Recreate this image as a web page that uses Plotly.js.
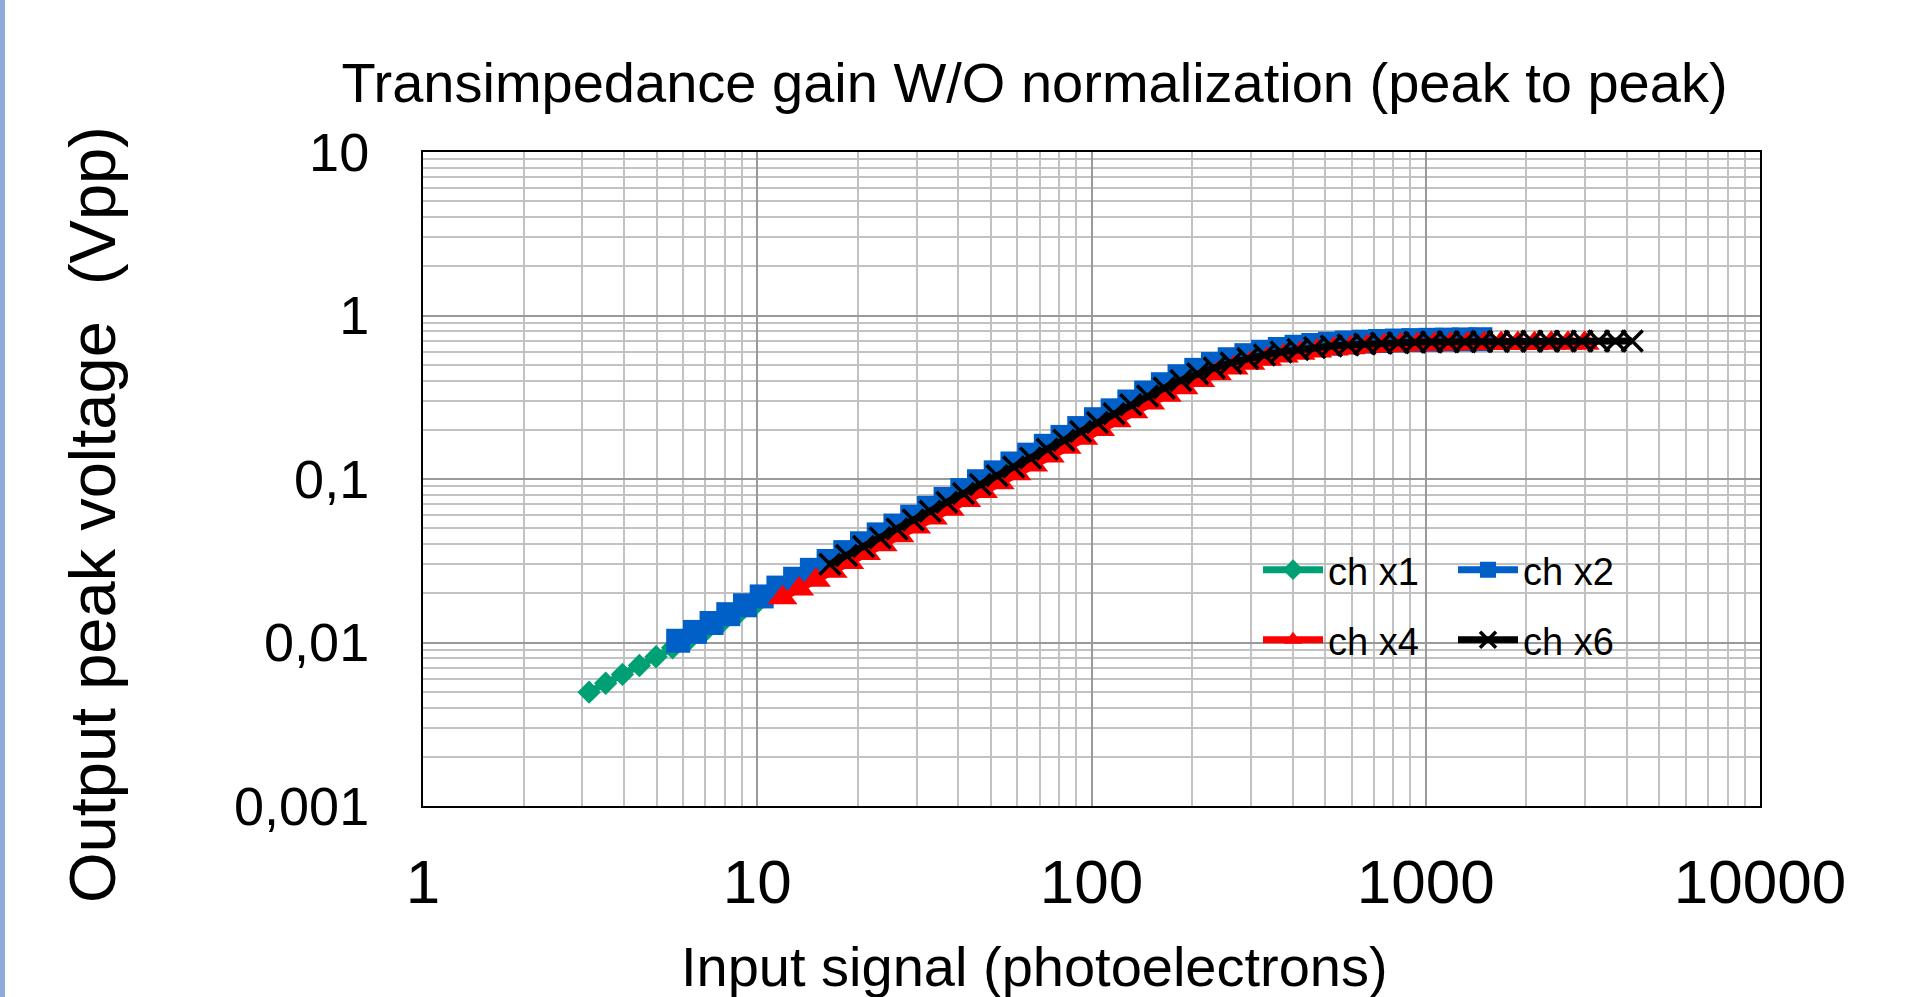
<!DOCTYPE html>
<html>
<head>
<meta charset="utf-8">
<script src="https://cdn.plot.ly/plotly-3.0.1.min.js"></script>
<style>
html,body{margin:0;padding:0;background:#ffffff;overflow:hidden;}
#chart{width:1908px;height:997px;}
</style>
</head>
<body>
<div id="chart"></div>
<script>
// ---- data ----
const seriesNames = ['ch x1', 'ch x2', 'ch x4', 'ch x6'];

const ch1X = [3.14, 3.52, 3.95, 4.44, 4.98, 5.58, 6.27, 7.03, 7.89, 8.85, 9.93];
const ch1Y = [0.00497, 0.00563, 0.00638, 0.00723, 0.00819, 0.00928, 0.01051, 0.01191, 0.01349, 0.01528, 0.01731];

const ch2X = [5.8, 6.51, 7.30, 8.19, 9.19, 10.31, 11.57, 12.98, 14.57, 16.35, 18.34, 20.58, 23.09, 25.91, 29.07, 32.62, 36.60, 41.06, 46.07, 51.69, 58.0, 65.1, 73.0, 81.9, 91.9, 103.1, 115.7, 129.8, 145.7, 163.5, 183.4, 205.8, 230.9, 259.1, 290.7, 326.2, 366.0, 410.6, 460.7, 516.9, 580.0, 650.8, 730.2, 819.3, 919.3, 1031, 1157, 1298, 1457];
const ch2Y = [0.01025, 0.01161, 0.01316, 0.01490, 0.01689, 0.01913, 0.02167, 0.02455, 0.02782, 0.03152, 0.03571, 0.04045, 0.04583, 0.05192, 0.05882, 0.06664, 0.07550, 0.08553, 0.09690, 0.1098, 0.1244, 0.1409, 0.1596, 0.1809, 0.2049, 0.2321, 0.2630, 0.2979, 0.3375, 0.380, 0.425, 0.465, 0.505, 0.540, 0.572, 0.600, 0.624, 0.644, 0.660, 0.673, 0.684, 0.692, 0.698, 0.703, 0.707, 0.710, 0.712, 0.714, 0.716];

const ch4X = [11.9, 13.35, 14.98, 16.81, 18.86, 21.16, 23.74, 26.64, 29.89, 33.54, 37.63, 42.22, 47.37, 53.15, 59.64, 66.92, 75.08, 84.25, 94.53, 106.1, 119.0, 133.5, 149.8, 168.1, 188.6, 211.6, 237.4, 266.4, 298.9, 335.4, 376.3, 422.2, 473.7, 531.5, 596.4, 669.2, 750.8, 842.5, 945.3, 1061, 1190, 1335, 1498, 1681, 1886, 2116, 2374, 2664, 2989];
const ch4Y = [0.01875, 0.02124, 0.02407, 0.02726, 0.03089, 0.03500, 0.03965, 0.04492, 0.05089, 0.05765, 0.06531, 0.07400, 0.08383, 0.09497, 0.1076, 0.1219, 0.1381, 0.1565, 0.1773, 0.2008, 0.2275, 0.2578, 0.2920, 0.325, 0.362, 0.400, 0.440, 0.478, 0.510, 0.540, 0.566, 0.588, 0.607, 0.623, 0.636, 0.646, 0.654, 0.660, 0.665, 0.668, 0.670, 0.672, 0.673, 0.674, 0.675, 0.675, 0.676, 0.676, 0.676];

const ch6X = [16.5, 18.5, 20.8, 23.3, 26.2, 29.3, 32.9, 36.9, 41.4, 46.5, 52.2, 58.5, 65.7, 73.7, 82.7, 92.8, 104.1, 116.8, 131.1, 147.1, 165.0, 185.1, 207.7, 233.1, 261.5, 293.4, 329.2, 369.4, 414.5, 465.0, 521.8, 585.4, 656.9, 737.0, 827.0, 927.9, 1041, 1168, 1311, 1471, 1650, 1851, 2077, 2331, 2615, 2934, 3292, 3694, 4145];
const ch6Y = [0.0301, 0.0340, 0.0386, 0.0437, 0.0495, 0.0561, 0.0635, 0.0720, 0.0816, 0.0924, 0.1047, 0.1186, 0.1344, 0.1522, 0.1724, 0.1954, 0.2213, 0.2508, 0.2841, 0.3218, 0.360, 0.400, 0.440, 0.478, 0.513, 0.545, 0.573, 0.598, 0.619, 0.636, 0.650, 0.661, 0.670, 0.676, 0.681, 0.685, 0.688, 0.690, 0.692, 0.693, 0.694, 0.695, 0.696, 0.696, 0.697, 0.697, 0.698, 0.698, 0.699];

const xTickVals = [1, 10, 100, 1000, 10000];
const xTickText = ['1', '10', '100', '1000', '10000'];
const yTickVals = [0.001, 0.01, 0.1, 1, 10];
const yTickText = ['0,001', '0,01', '0,1', '1', '10'];

const chartTitle = 'Transimpedance gain W/O normalization (peak to peak)';
const xTitle = 'Input signal (photoelectrons)';
const yTitle = 'Output peak voltage  (Vpp)';

// ---- styling ----
const FONT = 'Liberation Sans, Arial, sans-serif';
const PL = 423, PR = 1760, PT = 152, PB = 806, W = 1908, H = 997;
const PW = PR - PL, PH = PB - PT;
const px2x = v => (v - PL) / PW;
const px2y = v => (PB - v) / PH;

const traces = [
  {x: ch1X, y: ch1Y, name: seriesNames[0], mode: 'lines+markers', legend: 'legend',
   line: {color: '#00A075', width: 7},
   marker: {symbol: 'diamond', size: 18, color: '#00A075'}},
  {x: ch2X, y: ch2Y, name: seriesNames[1], mode: 'lines+markers', legend: 'legend',
   line: {color: '#0060C8', width: 7},
   marker: {symbol: 'square', size: 24, color: '#0060C8'}},
  {x: ch4X, y: ch4Y, name: seriesNames[2], mode: 'lines+markers', legend: 'legend2',
   line: {color: '#FF0000', width: 7},
   marker: {symbol: 'triangle-up', size: 26, color: '#FF0000'}},
  {x: ch6X, y: ch6Y, name: seriesNames[3], mode: 'lines+markers', legend: 'legend2',
   line: {color: '#000000', width: 7},
   marker: {symbol: 'x-thin', size: 21, color: '#000000', line: {color: '#000000', width: 3.5}}}
];

const legendCommon = {
  orientation: 'h', bgcolor: 'rgba(0,0,0,0)', borderwidth: 0,
  font: {family: FONT, size: 38, color: '#000'},
  xanchor: 'left', yanchor: 'middle', entrywidth: 120, itemwidth: 60,
  itemclick: false, itemdoubleclick: false
};

const layout = {
  width: W, height: H,
  margin: {l: PL, r: W - PR, t: PT, b: H - PB, pad: 0},
  paper_bgcolor: '#ffffff', plot_bgcolor: '#ffffff',
  font: {family: FONT, color: '#000'},
  title: {text: chartTitle, font: {family: FONT, size: 56, color: '#000'},
          xref: 'container', x: 1034.5 / W, xanchor: 'center',
          yref: 'container', y: 1 - 82 / H, yanchor: 'middle'},
  xaxis: {type: 'log', range: [0, 4], tickvals: xTickVals, ticktext: xTickText,
          tickfont: {family: FONT, size: 62, color: '#000'}, ticks: '', ticklabelstandoff: 21,
          showline: true, mirror: true, linecolor: '#000', linewidth: 2,
          showgrid: true, gridcolor: '#9a9a9a', gridwidth: 2, zeroline: false,
          minor: {dtick: 'D1', showgrid: true, gridcolor: '#c2c2c2', gridwidth: 2},
          fixedrange: true},
  yaxis: {type: 'log', range: [-3, 1], tickvals: yTickVals, ticktext: yTickText,
          tickfont: {family: FONT, size: 54, color: '#000'}, ticks: '', ticklabelstandoff: 41,
          showline: true, mirror: true, linecolor: '#000', linewidth: 2,
          showgrid: true, gridcolor: '#9a9a9a', gridwidth: 2, zeroline: false,
          minor: {dtick: 'D1', showgrid: true, gridcolor: '#c2c2c2', gridwidth: 2},
          fixedrange: true},
  showlegend: true,
  legend: Object.assign({}, legendCommon, {x: px2x(1258), y: px2y(570)}),
  legend2: Object.assign({}, legendCommon, {x: px2x(1258), y: px2y(640)}),
  annotations: [
    {text: xTitle, xref: 'paper', yref: 'paper', x: px2x(1034), y: px2y(966),
     xanchor: 'center', yanchor: 'middle', showarrow: false,
     font: {family: FONT, size: 56, color: '#000'}},
    {text: yTitle, xref: 'paper', yref: 'paper', x: px2x(92), y: px2y(515),
     xanchor: 'center', yanchor: 'middle', showarrow: false, textangle: -90,
     font: {family: FONT, size: 65, color: '#000'}}
  ],
  shapes: [
    {type: 'rect', xref: 'paper', yref: 'paper', x0: px2x(0), x1: px2x(5), y0: px2y(H), y1: px2y(0),
     fillcolor: '#8EAADB', line: {width: 0}, layer: 'below'}
  ]
};

Plotly.newPlot('chart', traces, layout, {displayModeBar: false, staticPlot: true});
</script>
</body>
</html>
